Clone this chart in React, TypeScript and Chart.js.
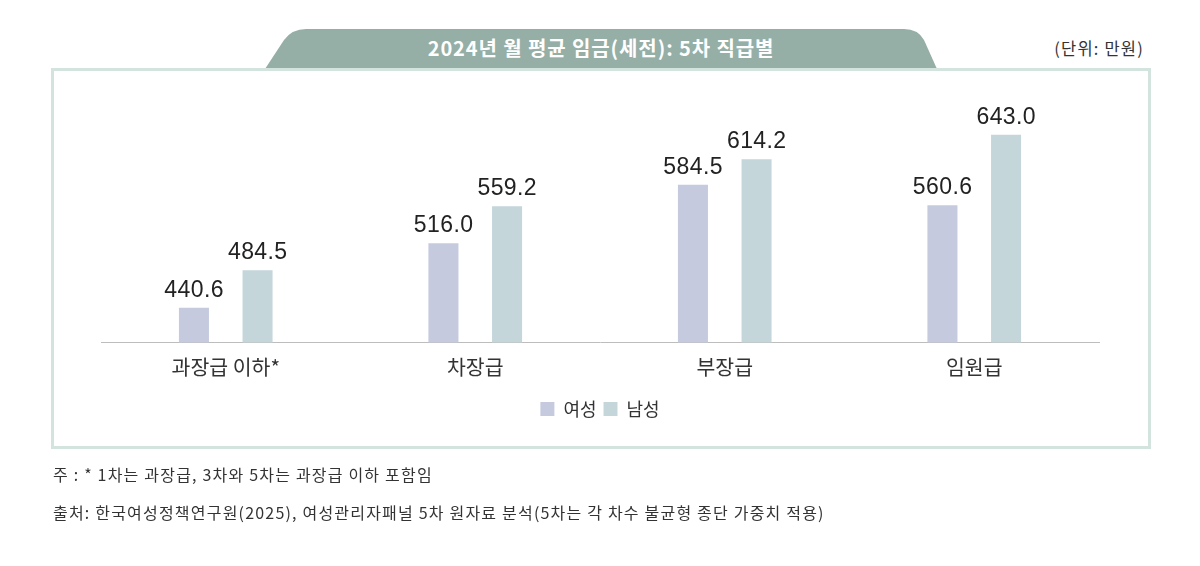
import React, { useEffect, useRef } from "react";
import { Chart, registerables } from "chart.js";

Chart.register(...registerables);

const categories = ["과장급 이하*", "차장급", "부장급", "임원급"];
const womenValues = [440.6, 516.0, 584.5, 560.6];
const menValues = [484.5, 559.2, 614.2, 643.0];
const seriesNames = ["여성", "남성"];
const titleText = "2024년 월 평균 임금(세전): 5차 직급별";
const unitText = "(단위: 만원)";
const noteText = "주 : * 1차는 과장급, 3차와 5차는 과장급 이하 포함임";
const sourceText = "출처: 한국여성정책연구원(2025), 여성관리자패널 5차 원자료 분석(5차는 각 차수 불균형 종단 가중치 적용)";

const KFONT = '"Noto Sans CJK KR", "Noto Sans", sans-serif';
const NFONT = '"Liberation Sans", Arial, sans-serif';

const valueLabelPlugin = {
  id: "valueLabels",
  afterDatasetsDraw(chart: any) {
    const ctx = chart.ctx;
    ctx.save();
    ctx.font = `23px ${NFONT}`;
    const spacing = 0.4;
    (ctx as any).letterSpacing = `${spacing}px`;
    ctx.fillStyle = "#222222";
    ctx.textAlign = "center";
    ctx.textBaseline = "alphabetic";
    chart.data.datasets.forEach((ds: any, di: number) => {
      const meta = chart.getDatasetMeta(di);
      meta.data.forEach((el: any, i: number) => {
        const v = ds.data[i] as number;
        ctx.fillText(v.toFixed(1), el.x + spacing / 2, el.y - 11);
      });
    });
    ctx.restore();
  },
};

export default function App() {
  const canvasRef = useRef<HTMLCanvasElement | null>(null);

  useEffect(() => {
    if (!canvasRef.current) return;
    const chart = new Chart(canvasRef.current, {
      type: "bar",
      data: {
        labels: categories,
        datasets: [
          {
            label: seriesNames[0],
            data: womenValues,
            backgroundColor: "#c5cadf",
            barPercentage: 0.472,
            categoryPercentage: 0.51,
          },
          {
            label: seriesNames[1],
            data: menValues,
            backgroundColor: "#c5d6da",
            barPercentage: 0.472,
            categoryPercentage: 0.51,
          },
        ],
      },
      options: {
        responsive: false,
        animation: false,
        devicePixelRatio: 1,
        layout: { padding: { left: 101, right: 101, top: 86, bottom: 138 } },
        scales: {
          x: {
            grid: { display: false, drawTicks: false },
            border: { display: true, color: "#bdbdbd", width: 1 },
            ticks: {
              color: "#333333",
              font: { family: KFONT, size: 20.5 },
              padding: 13,
            },
          },
          y: {
            display: false,
            min: 400,
            max: 700,
          },
        },
        plugins: {
          legend: {
            position: "bottom",
            labels: {
              boxWidth: 14,
              boxHeight: 14,
              padding: 7,
              color: "#333333",
              font: { family: KFONT, size: 18 },
            },
          },
          tooltip: { enabled: false },
        },
      },
      plugins: [valueLabelPlugin],
    });
    return () => chart.destroy();
  }, []);

  const noteStyle: React.CSSProperties = {
    position: "absolute",
    left: 53,
    lineHeight: "24px",
    color: "#333333",
    fontFamily: KFONT,
    fontSize: 16,
    letterSpacing: "1.2px",
    whiteSpace: "nowrap",
  };

  return (
    <div
      style={{
        position: "absolute",
        left: 0,
        top: 0,
        width: 1200,
        height: 566,
        background: "#ffffff",
        overflow: "hidden",
      }}
    >
      <svg
        width={1200}
        height={566}
        style={{ position: "absolute", left: 0, top: 0 }}
      >
        <path
          d="M265 69 L284 40 Q292 29 306 29 L904 29 Q918 29 924 40 L937 69 Z"
          fill="#95aea6"
        />
        <rect
          x={52.5}
          y={69.5}
          width={1097}
          height={378}
          fill="none"
          stroke="#d3e3dd"
          strokeWidth={3}
        />
      </svg>
      <div
        style={{
          position: "absolute",
          left: 265,
          width: 672,
          top: 33,
          height: 30,
          lineHeight: "30px",
          textAlign: "center",
          color: "#ffffff",
          fontFamily: KFONT,
          fontWeight: 700,
          fontSize: 20,
          letterSpacing: "0.9px",
        }}
      >
        {titleText}
      </div>
      <div
        style={{
          position: "absolute",
          right: 56,
          top: 36,
          lineHeight: "24px",
          color: "#333333",
          fontFamily: KFONT,
          fontSize: 16.5,
          letterSpacing: "1.2px",
        }}
      >
        {unitText}
      </div>
      <canvas
        ref={canvasRef}
        width={1200}
        height={566}
        style={{ position: "absolute", left: 0, top: 0, width: 1200, height: 566 }}
      />
      <div style={{ ...noteStyle, top: 462 }}>{noteText}</div>
      <div style={{ ...noteStyle, top: 500 }}>{sourceText}</div>
    </div>
  );
}
